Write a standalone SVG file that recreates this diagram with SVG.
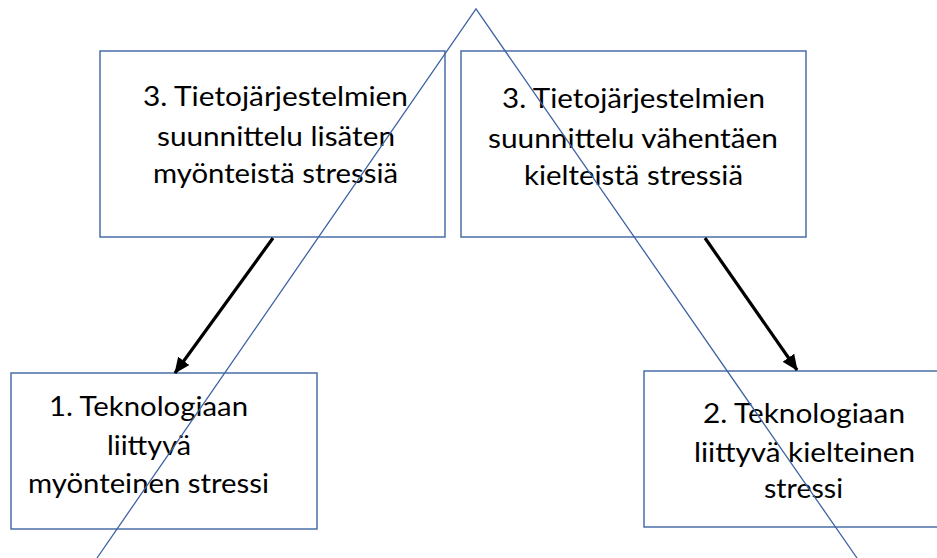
<svg xmlns="http://www.w3.org/2000/svg" width="937" height="558" viewBox="0 0 937 558">
<style>
.box{fill:#ffffff;stroke:#3f64a3;stroke-width:1.4}
.t{font-family:Lato,"Liberation Sans",Arial,sans-serif;font-size:27px;fill:#000000;text-anchor:middle}
.arr{stroke:#000000;stroke-width:3.2;fill:none}
.tri{stroke:#3f64a3;stroke-width:1.3;fill:none}
</style>
<defs>
<marker id="ah" markerUnits="userSpaceOnUse" markerWidth="16" markerHeight="14" refX="15" refY="7" orient="auto">
<path d="M0,0 L16,7 L0,14 Z" fill="#000000"/>
</marker>
</defs>
<g id="node-3a">
<rect class="box" x="100" y="51" width="345" height="186"/>
<text class="t" x="275.5" y="106" textLength="265" lengthAdjust="spacingAndGlyphs">3. Tietojärjestelmien</text>
<text class="t" x="276" y="146" textLength="238" lengthAdjust="spacingAndGlyphs">suunnittelu lisäten</text>
<text class="t" x="275.5" y="183" textLength="245" lengthAdjust="spacingAndGlyphs">myönteistä stressiä</text>
</g>
<g id="node-3b">
<rect class="box" x="461" y="51" width="345" height="186"/>
<text class="t" x="633.5" y="108" textLength="263" lengthAdjust="spacingAndGlyphs">3. Tietojärjestelmien</text>
<text class="t" x="633" y="148" textLength="290" lengthAdjust="spacingAndGlyphs">suunnittelu vähentäen</text>
<text class="t" x="633.5" y="185" textLength="219" lengthAdjust="spacingAndGlyphs">kielteistä stressiä</text>
</g>
<g id="node-1">
<rect class="box" x="11" y="373" width="306" height="156"/>
<text class="t" x="148.5" y="416" textLength="199" lengthAdjust="spacingAndGlyphs">1. Teknologiaan</text>
<text class="t" x="149" y="455" textLength="84" lengthAdjust="spacingAndGlyphs">liittyvä</text>
<text class="t" x="148.5" y="493" textLength="241" lengthAdjust="spacingAndGlyphs">myönteinen stressi</text>
</g>
<g id="node-2">
<rect class="box" x="644" y="371" width="300" height="156"/>
<text class="t" x="804" y="423" textLength="202" lengthAdjust="spacingAndGlyphs">2. Teknologiaan</text>
<text class="t" x="804.5" y="462" textLength="221" lengthAdjust="spacingAndGlyphs">liittyvä kielteinen</text>
<text class="t" x="803.5" y="498" textLength="79" lengthAdjust="spacingAndGlyphs">stressi</text>
</g>
<g id="connectors">
<line class="arr" x1="273" y1="238" x2="175" y2="373" marker-end="url(#ah)"/>
<line class="arr" x1="705" y1="238" x2="797" y2="370" marker-end="url(#ah)"/>
</g>
<g id="triangle">
<polyline class="tri" points="97,558 476,9 857,558"/>
</g>
</svg>
